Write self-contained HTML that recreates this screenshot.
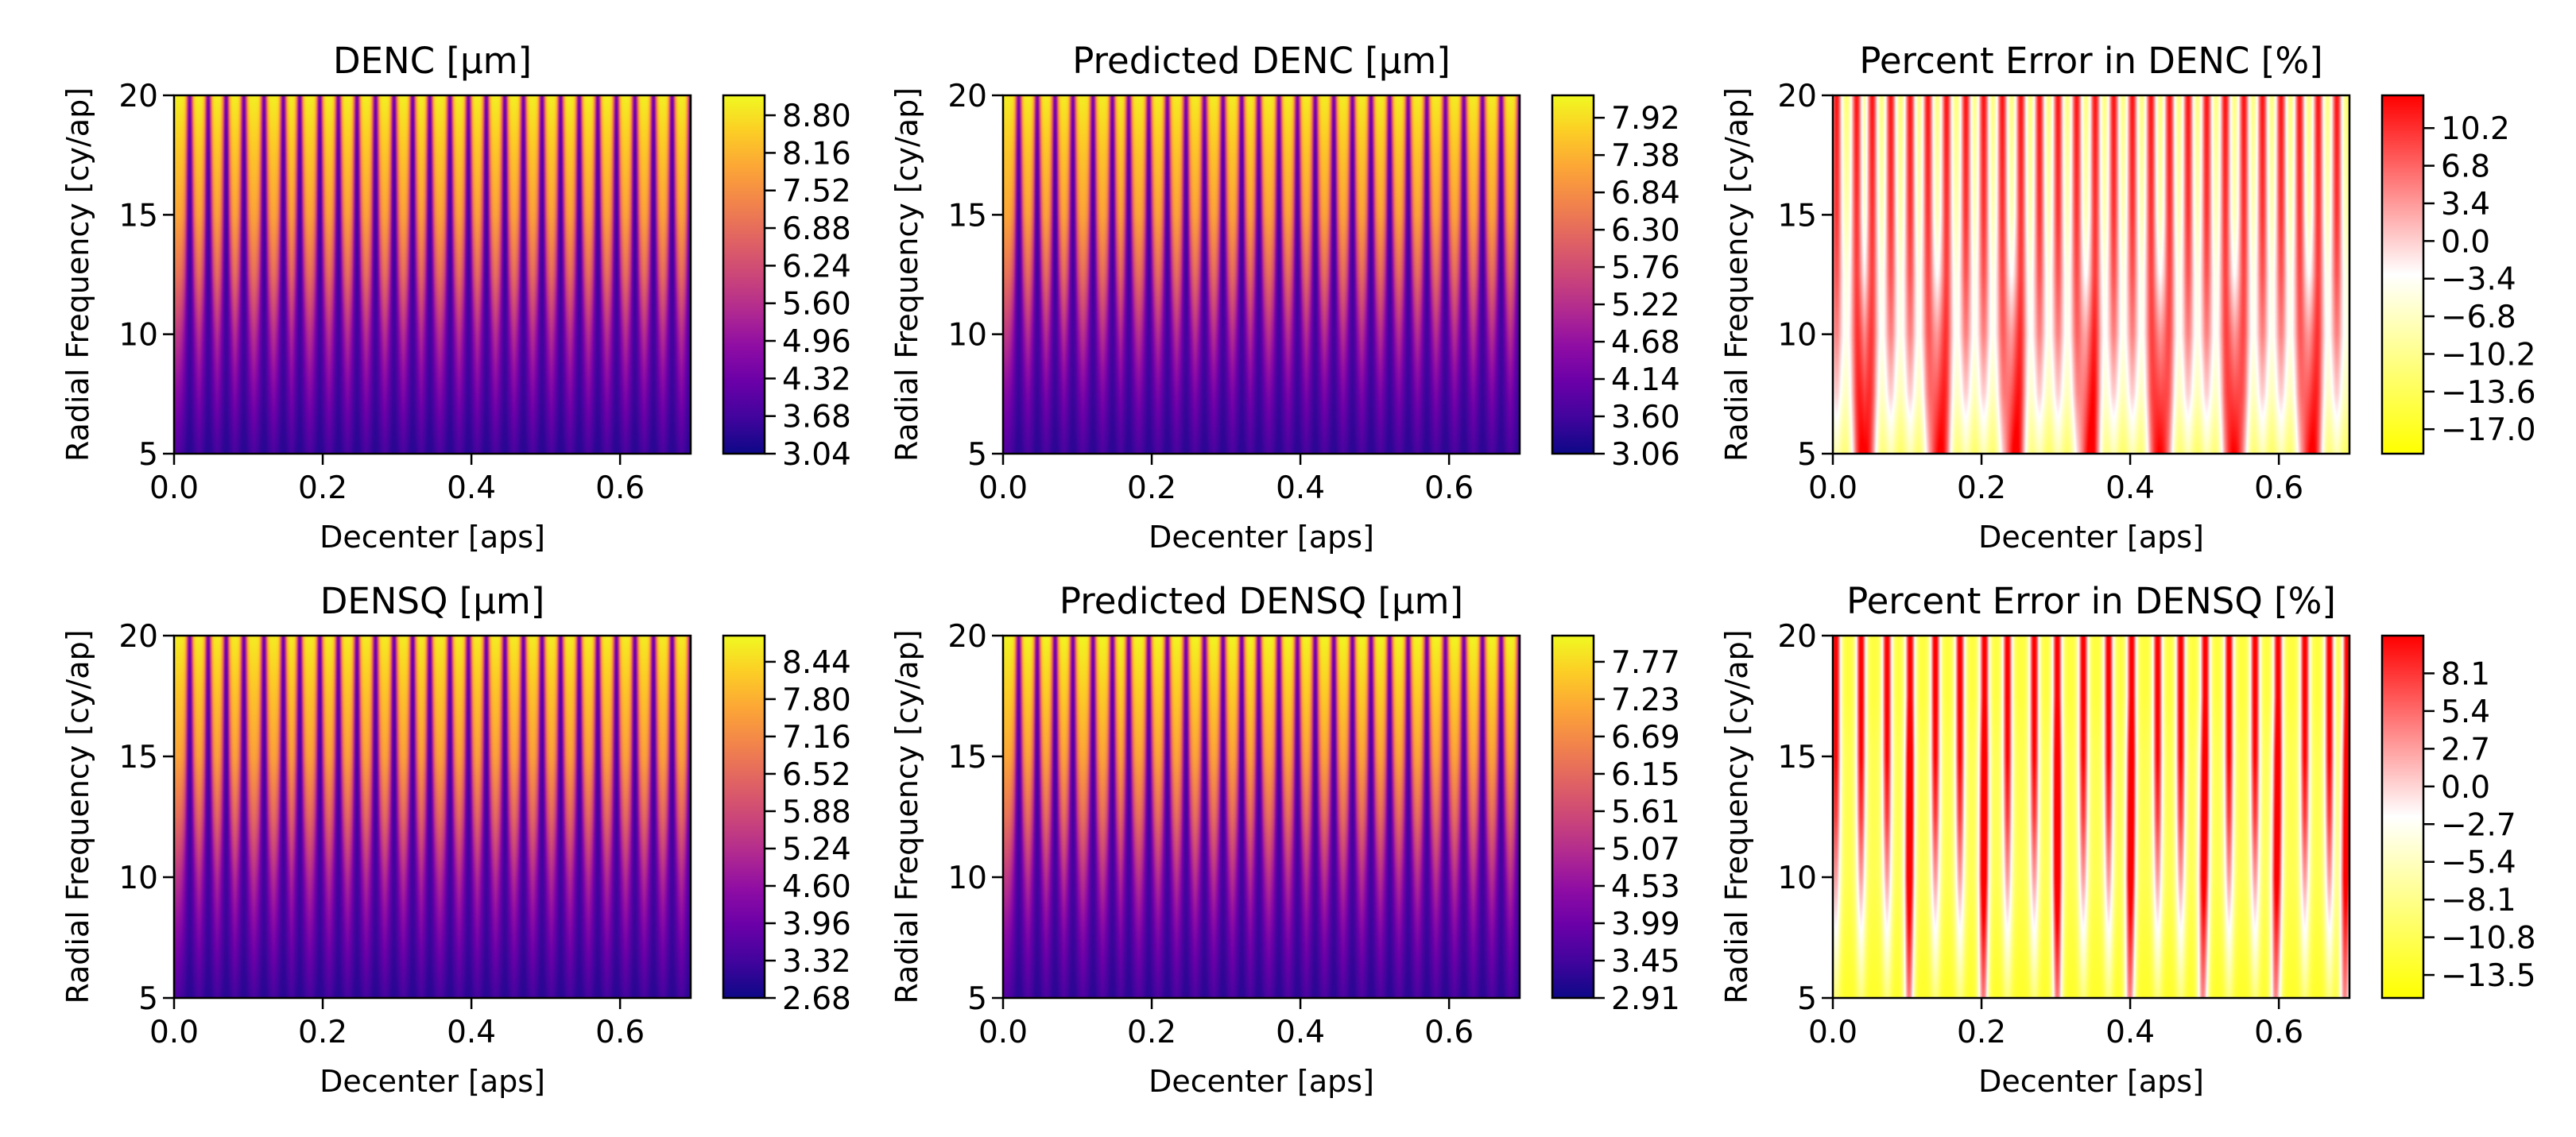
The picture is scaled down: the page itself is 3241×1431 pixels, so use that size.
<!DOCTYPE html>
<html><head><meta charset="utf-8">
<style>
html,body{margin:0;padding:0;background:#fff;}
#wrap{position:relative;width:3241px;height:1431px;overflow:hidden;background:#fff;}
canvas{position:absolute;}
svg{position:absolute;left:0;top:0;}
text{font-family:"DejaVu Sans","Liberation Sans",sans-serif;fill:#000;}
</style></head>
<body>
<div id="wrap">
<svg id="svg" width="3241" height="1431"></svg>
</div>
<script>
// ---------- data ----------
const xTicks = [0.0, 0.2, 0.4, 0.6];
const xTickLabels = ["0.0", "0.2", "0.4", "0.6"];
const yTicks = [5, 10, 15, 20];
const yTickLabels = ["5", "10", "15", "20"];
const freqRows = [5, 7.5, 10, 12.5, 15, 17.5, 20];

const denGaps = [0.021,0.046,0.070,0.094,0.121,0.147,0.169,0.196,0.221,0.246,0.271,0.296,0.321,0.344,0.371,0.396,0.420,0.445,0.470,0.495,0.520,0.545,0.570,0.595,0.620,0.645,0.670,0.695];
const dencLo = [3.35,3.55,3.65,3.60,3.70,3.90,4.40];
const dencHi = [3.90,4.80,5.80,7.00,7.90,8.40,9.00];
const pdencLo = [3.35,3.50,3.60,3.55,3.65,3.85,4.30];
const pdencHi = [3.80,4.50,5.40,6.40,7.20,7.60,8.10];
const densqLo = [3.00,3.20,3.30,3.30,3.40,3.60,4.00];
const densqHi = [3.50,4.40,5.40,6.60,7.60,8.10,8.70];
const pdensqLo = [3.20,3.35,3.45,3.45,3.55,3.75,4.10];
const pdensqHi = [3.70,4.40,5.30,6.30,7.10,7.60,8.10];
const denGapW = [0.010,0.009,0.008,0.0065,0.0055,0.0048,0.0042];

const errDencStripes = [0.005,0.032,0.053,0.078,0.104,0.128,0.153,0.179,0.203,0.228,0.253,0.278,0.303,0.328,0.353,0.378,0.403,0.428,0.453,0.478,0.503,0.528,0.553,0.578,0.603,0.628,0.653,0.678];
const errDencLo = [-13,-8,-5,-6,-9,-11,-13];
const errDencHi = [-8,0,5,8,10,11,12];
const errDencBlobs = [0.042,0.143,0.244,0.345,0.440,0.540,0.643];
const errDencBlobAmp = [26,16,8,2,0,0,0];

const errDensqStripes = [0.004,0.038,0.073,0.104,0.138,0.171,0.204,0.235,0.271,0.302,0.337,0.371,0.402,0.437,0.468,0.501,0.533,0.568,0.599,0.635,0.668,0.692];
const errDensqLo = [-13,-12,-11,-11,-11,-12,-12];
const errDensqHi = [-9,-3,3,8,11,12,12];
const errDensqBlobs = [0.102,0.202,0.302,0.399,0.497,0.595,0.688];
const errDensqBlobAmp = [14,13,12,8,4,0,0];

const cbDenc = [3.04,3.68,4.32,4.96,5.60,6.24,6.88,7.52,8.16,8.80];
const cbPdenc = [3.06,3.60,4.14,4.68,5.22,5.76,6.30,6.84,7.38,7.92];
const cbErrDenc = [-17.0,-13.6,-10.2,-6.8,-3.4,0.0,3.4,6.8,10.2];
const cbDensq = [2.68,3.32,3.96,4.60,5.24,5.88,6.52,7.16,7.80,8.44];
const cbPdensq = [2.91,3.45,3.99,4.53,5.07,5.61,6.15,6.69,7.23,7.77];
const cbErrDensq = [-13.5,-10.8,-8.1,-5.4,-2.7,0.0,2.7,5.4,8.1];

// ---------- layout ----------
const XMIN=0, XMAX=0.695, YMIN=5, YMAX=20;
const cols=[{l:219,cb:910},{l:1262,cb:1953},{l:2306,cb:2997}];
const rows=[{t:120,b:571},{t:800,b:1256}];
const PW=650, CBW=52;
const plasma=[[13,8,135],[65,4,157],[106,0,168],[143,13,164],[177,42,144],[204,71,120],[225,100,98],[242,132,75],[252,166,54],[252,206,37],[240,249,33]];
const yr=[[255,255,0],[255,255,255],[255,0,0]];

const panels=[
 {name:"denc",title:"DENC [µm]",r:0,c:0,type:"den",gaps:denGaps,lo:dencLo,hi:dencHi,cb:cbDenc,cmap:plasma,below:0,above:0.53},
 {name:"pred-denc",title:"Predicted DENC [µm]",r:0,c:1,type:"den",gaps:denGaps,lo:pdencLo,hi:pdencHi,cb:cbPdenc,cmap:plasma,below:0,above:0.6},
 {name:"err-denc",title:"Percent Error in DENC [%]",r:0,c:2,type:"err",stripes:errDencStripes,lo:errDencLo,hi:errDencHi,blobs:errDencBlobs,blobAmp:errDencBlobAmp,bw:0.014,sw:0.0075,cb:cbErrDenc,cmap:yr,below:0.65,above:0.87},
 {name:"densq",title:"DENSQ [µm]",r:1,c:0,type:"den",gaps:denGaps,lo:densqLo,hi:densqHi,cb:cbDensq,cmap:plasma,below:0,above:0.7},
 {name:"pred-densq",title:"Predicted DENSQ [µm]",r:1,c:1,type:"den",gaps:denGaps,lo:pdensqLo,hi:pdensqHi,cb:cbPdensq,cmap:plasma,below:0,above:0.7},
 {name:"err-densq",title:"Percent Error in DENSQ [%]",r:1,c:2,type:"err",stripes:errDensqStripes,lo:errDensqLo,hi:errDensqHi,blobs:errDensqBlobs,blobAmp:errDensqBlobAmp,bw:0.007,sw:0.0068,cb:cbErrDensq,cmap:yr,below:0.61,above:1.0}
];

function interp(arr,f){
  for(let i=0;i<freqRows.length-1;i++){
    if(f<=freqRows[i+1]){const t=(f-freqRows[i])/(freqRows[i+1]-freqRows[i]);return arr[i]+(arr[i+1]-arr[i])*t;}
  }
  return arr[arr.length-1];
}
function cmapColor(cm,t){
  t=Math.max(0,Math.min(1,t));const n=cm.length-1;const p=t*n;const i=Math.min(n-1,Math.floor(p));const u=p-i;
  return [0,1,2].map(k=>Math.round(cm[i][k]+(cm[i+1][k]-cm[i][k])*u));
}
const svg=document.getElementById('svg');
const NS="http://www.w3.org/2000/svg";
function mk(tag,attrs,parent){const e=document.createElementNS(NS,tag);for(const k in attrs)e.setAttribute(k,attrs[k]);(parent||svg).appendChild(e);return e;}
const defs=mk('defs',{});

panels.forEach((p,pi)=>{
  const L=cols[p.c].l, T=rows[p.r].t, B=rows[p.r].b, H=B-T;
  const xs=v=>L+(v-XMIN)/(XMAX-XMIN)*PW;
  const ys=v=>B-(v-YMIN)/(YMAX-YMIN)*H;
  const step=p.cb[1]-p.cb[0];
  const vmin=p.cb[0]-p.below*step, vmax=p.cb[p.cb.length-1]+p.above*step;
  const cv=document.createElement('canvas');cv.width=PW;cv.height=H;cv.style.left=L+'px';cv.style.top=T+'px';
  
  
  document.getElementById('wrap').insertBefore(cv,svg);
  const ctx=cv.getContext('2d');const img=ctx.createImageData(PW,H);
  for(let py=0;py<H;py++){
    const f=YMAX-(py+0.5)/H*(YMAX-YMIN);
    const lo=interp(p.lo,f), hi=interp(p.hi,f);
    const gw=p.type==="den"?interp(denGapW,f):p.sw;
    const ba=p.type==="err"?interp(p.blobAmp,f):0;
    for(let px=0;px<PW;px++){
      const x=XMIN+(px+0.5)/PW*(XMAX-XMIN);
      let v;
      if(p.type==="den"){
        let g=0;for(const c of p.gaps){const d=(x-c)/gw;g=Math.max(g,Math.exp(-d*d));}
        v=hi-(hi-lo)*g;
      }else{
        let s=0;for(const c of p.stripes){const d=(x-c)/p.sw;s=Math.max(s,Math.exp(-d*d));}
        let b=0;for(const c of p.blobs){const d=(x-c)/p.bw;b=Math.max(b,Math.exp(-d*d));}
        v=lo+(hi-lo)*s+ba*b;
      }
      const col=cmapColor(p.cmap,(v-vmin)/(vmax-vmin));
      const o=(py*PW+px)*4;img.data[o]=col[0];img.data[o+1]=col[1];img.data[o+2]=col[2];img.data[o+3]=255;
    }
  }
  ctx.putImageData(img,0,0);
  const fr=mk('rect',{x:L,y:T,width:PW,height:H,fill:'none',stroke:'#000','stroke-width':2.5});
  
  
  const tt=mk('text',{x:L+PW/2,y:T-28,'font-size':45,'text-anchor':'middle'});tt.textContent=p.title;
  
  
  xTicks.forEach((v,i)=>{
    const x=xs(v);
    const tk=mk('line',{x1:x,x2:x,y1:B,y2:B+14,stroke:'#000','stroke-width':2.5});
    
    
    const tl=mk('text',{x:x,y:B+56,'font-size':39,'text-anchor':'middle'});tl.textContent=xTickLabels[i];
    
    
  });
  yTicks.forEach((v,i)=>{
    const y=ys(v);
    const tk=mk('line',{x1:L-14,x2:L,y1:y,y2:y,stroke:'#000','stroke-width':2.5});
    
    
    const tl=mk('text',{x:L-20,y:y+14,'font-size':39,'text-anchor':'end'});tl.textContent=yTickLabels[i];
    
    
  });
  const xl=mk('text',{x:L+PW/2,y:B+118,'font-size':38,'text-anchor':'middle'});xl.textContent="Decenter [aps]";
  
  
  const ylx=L-108, yly=(T+B)/2;
  const yl=mk('text',{x:ylx,y:yly,'font-size':38,'text-anchor':'middle',transform:`rotate(-90 ${ylx} ${yly})`});yl.textContent="Radial Frequency [cy/ap]";
  
  
  const gid='g'+pi;const lg=mk('linearGradient',{id:gid,x1:0,y1:1,x2:0,y2:0},defs);
  p.cmap.forEach((c,i)=>mk('stop',{offset:i/(p.cmap.length-1),'stop-color':`rgb(${c[0]},${c[1]},${c[2]})`},lg));
  const CL=cols[p.c].cb;
  const cbr=mk('rect',{x:CL,y:T,width:CBW,height:H,fill:`url(#${gid})`,stroke:'#000','stroke-width':2.5});
  
  
  const cy=v=>B-(v-vmin)/(vmax-vmin)*H;
  p.cb.forEach(v=>{
    const y=cy(v);
    const tk=mk('line',{x1:CL+CBW,x2:CL+CBW+14,y1:y,y2:y,stroke:'#000','stroke-width':2.5});
    
    
    const s=(v<0?'\u2212':'')+Math.abs(v).toFixed(p.type==="err"?1:2);
    const tl=mk('text',{x:CL+CBW+22,y:y+14,'font-size':39});tl.textContent=s;
    
    
  });
});
</script>
</body></html>
